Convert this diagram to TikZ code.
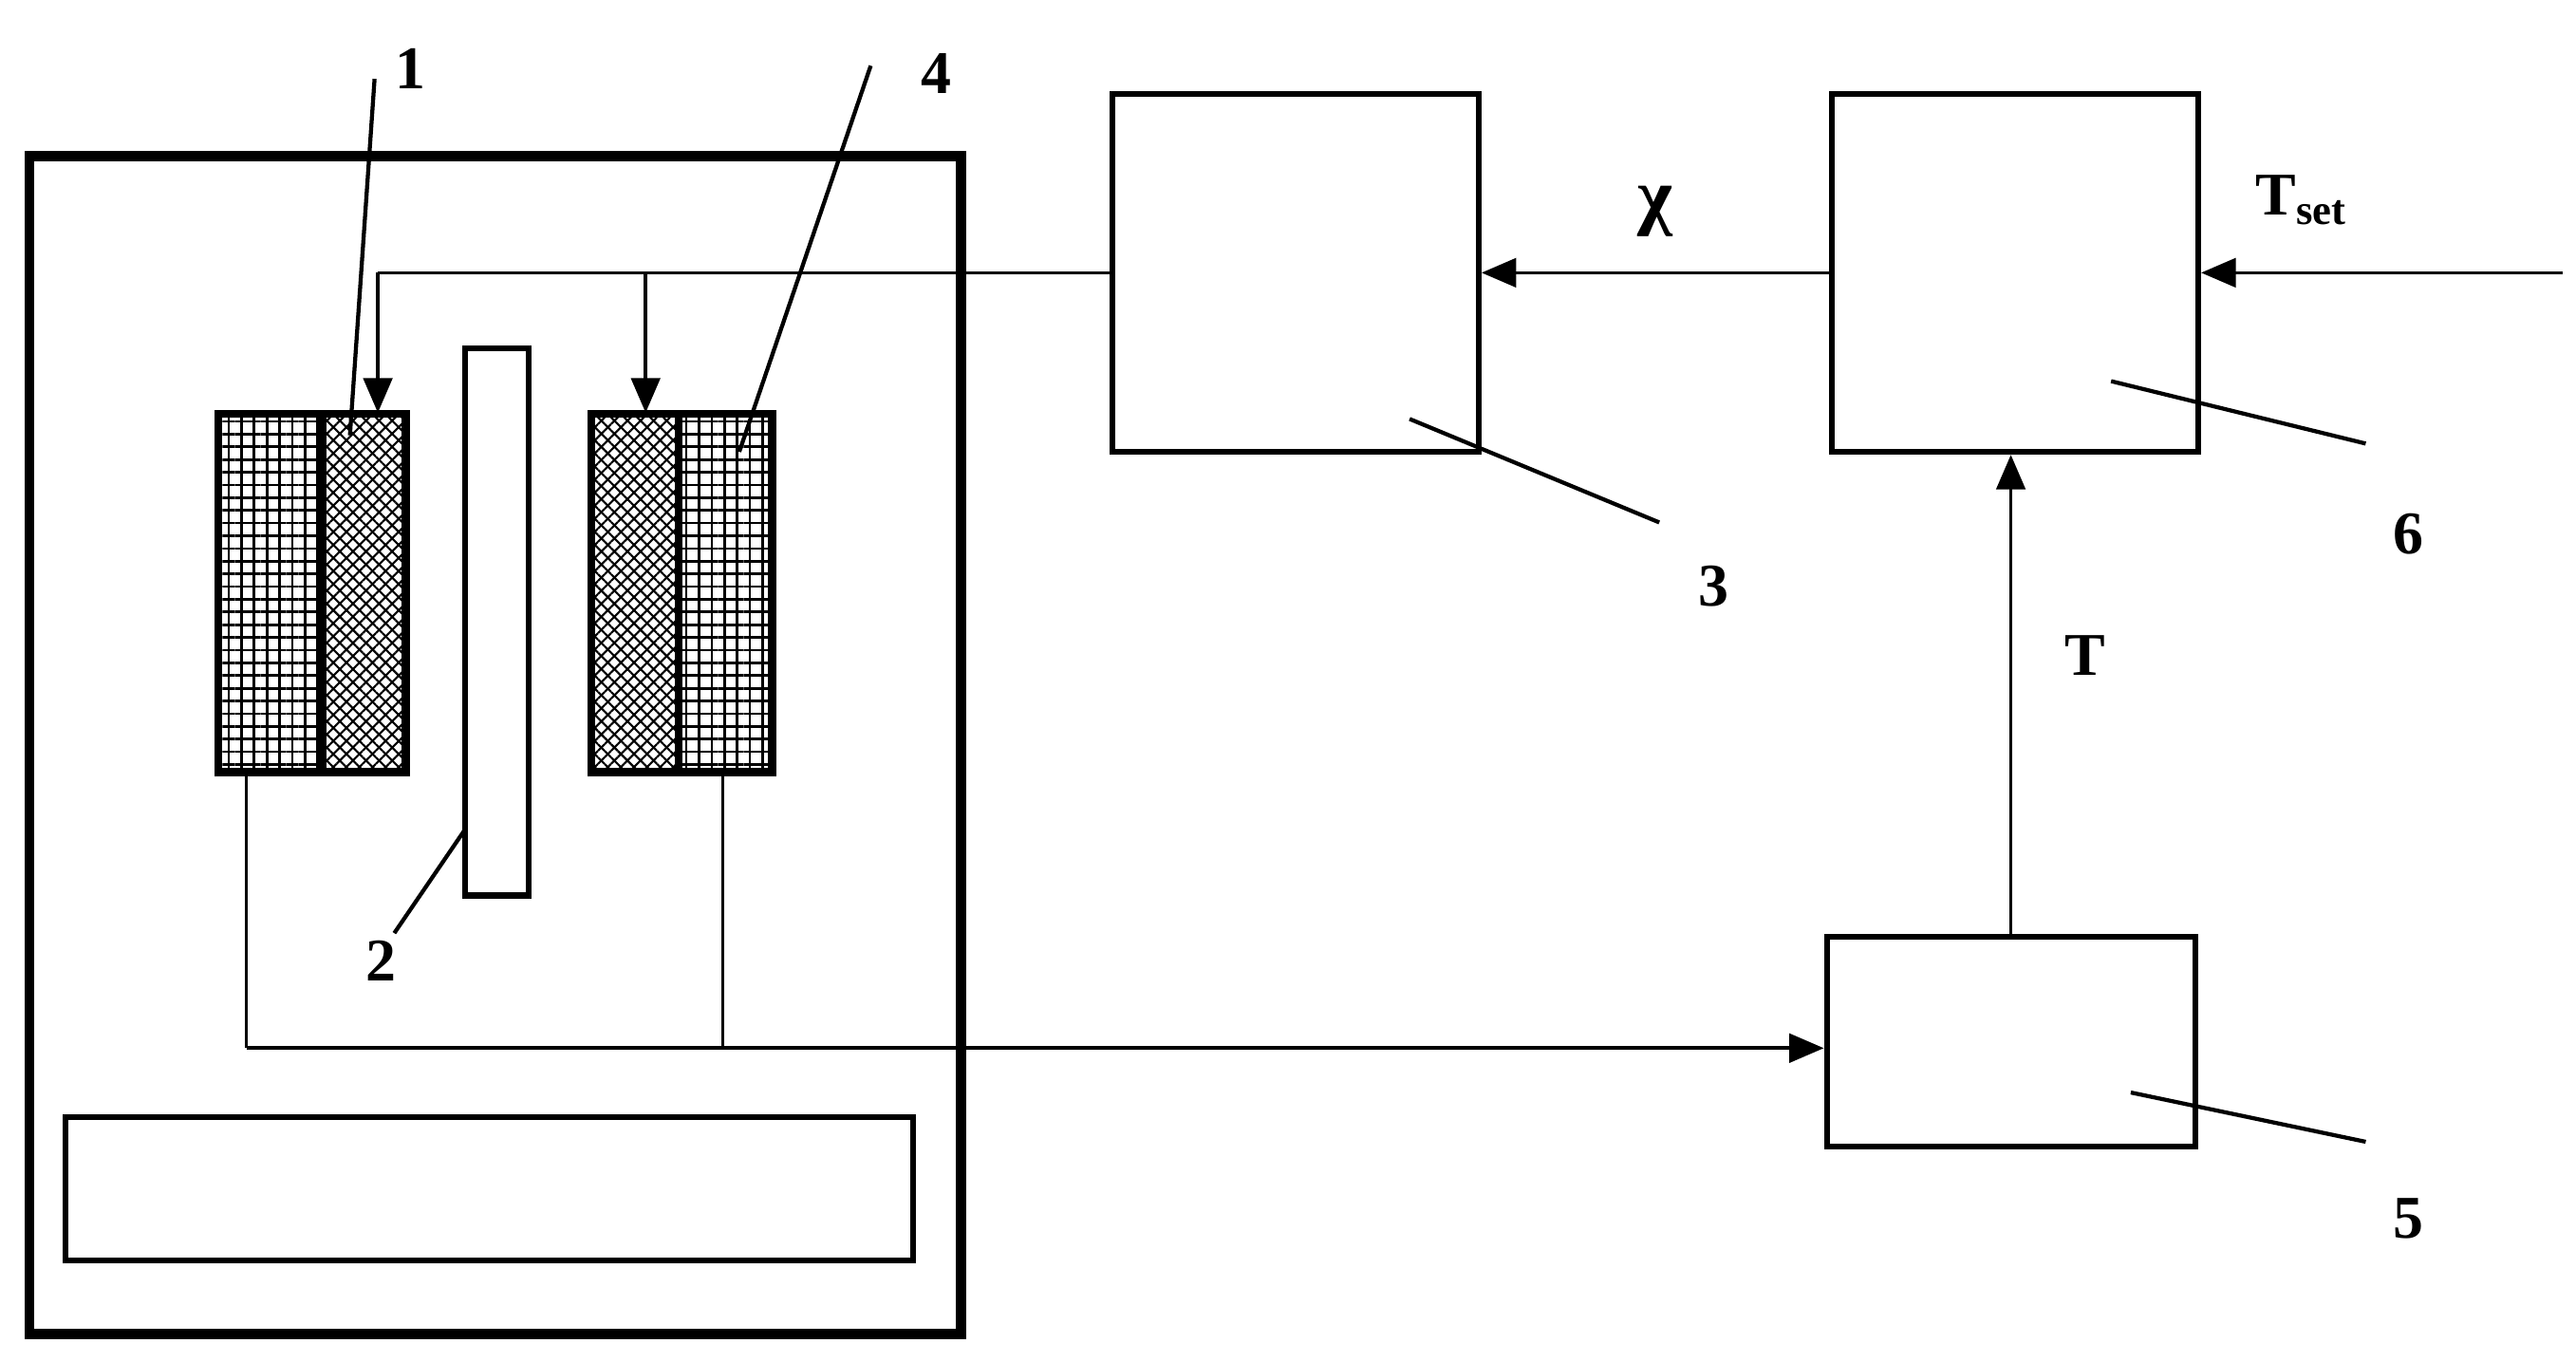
\documentclass[tikz,border=0pt]{standalone}
\usepackage{fontspec}
\setmainfont{Liberation Serif}
\usetikzlibrary{patterns.meta,arrows.meta}
\begin{document}
\begin{tikzpicture}[x=0.01cm,y=-0.01cm,
  blk/.style={draw,line width=1pt,minimum width=2.23cm,inner sep=0},
  conn/.style={line width=0.6pt},
  arr/.style={conn,-{Triangle[length=6pt,width=5pt]}},
  lead/.style={line width=0.7pt},
  lab/.style={font=\fontsize{10.5}{12}\selectfont\bfseries,inner sep=1pt},
  grd/.style={pattern={Lines[angle=0,distance=2.2pt,line width=0.45pt]}},
  grd2/.style={pattern={Lines[angle=90,distance=2.2pt,line width=0.45pt]}},
  chk/.style={pattern={Lines[angle=45,distance=1.6pt,line width=0.35pt]}},
  chk2/.style={pattern={Lines[angle=-45,distance=1.6pt,line width=0.35pt]}}]
\useasboundingbox (0,0) rectangle (1568,829);
% outer housing
\draw[line width=1.7pt] (18,95) rectangle (585,812);
\draw[line width=1pt] (40,680) rectangle (556,767);
% coils
\fill[grd] (133,252) rectangle (196,470); \fill[grd2] (133,252) rectangle (196,470);
\fill[chk] (196,252) rectangle (247,470); \fill[chk2] (196,252) rectangle (247,470);
\fill[chk] (360,252) rectangle (413,470); \fill[chk2] (360,252) rectangle (413,470);
\fill[grd] (413,252) rectangle (470,470); \fill[grd2] (413,252) rectangle (470,470);
\draw[line width=1.4pt] (133,252) rectangle (247,470) (196,252) -- (196,470);
\draw[line width=1.4pt] (360,252) rectangle (470,470) (413,252) -- (413,470);
\node[inner sep=0,minimum width=1.14cm,minimum height=2.18cm] (c1) at (190,361) {};
\node[inner sep=0,minimum width=1.10cm,minimum height=2.18cm] (c4) at (415,361) {};
% rod
\node[draw,line width=1pt,minimum width=0.39cm,minimum height=3.33cm,inner sep=0] (rod) at (302.5,378.5) {};
% blocks
\node[blk,minimum height=2.18cm] (b3) at (788.5,166) {};
\node[blk,minimum height=2.18cm] (b6) at (1226.5,166) {};
\node[blk,minimum height=1.28cm,minimum width=2.24cm] (b5) at (1224,634) {};
\coordinate (in) at (1560,166);
\coordinate (j1) at (230,166);
\coordinate (j2) at (393,166);
\coordinate (d1) at (150,638);
\coordinate (d2) at (440,638);
% connectors
\draw[conn] (b3.west) -- (j1);
\draw[arr] (j1) -- (j1|-c1.north);
\draw[arr] (j2) -- (j2|-c4.north);
\draw[arr] (b6.west) -- (b3.east) node[lab,midway,above=5pt,font=\fontsize{13}{14}\selectfont\bfseries] {χ};
\draw[arr] (in) -- (b6.east) node[lab,pos=0.72,above=7pt] {T\textsubscript{set}};
\draw[arr] (b5.north) -- (b5.north|-b6.south) node[lab,pos=0.58,right=8pt] {T};
\draw[conn] (d1|-c1.south) -- (d1);
\draw[conn] (d2|-c4.south) -- (d2);
\draw[arr] (d1) -- (b5.west|-d1);
% labels
\node[lab] (l1) at (250,42) {1};
\node[lab] (l4) at (570,45) {4};
\node[lab] (l2) at (232,585) {2};
\node[lab] (l3) at (1043,357) {3};
\node[lab] (l6) at (1466,325) {6};
\node[lab] (l5) at (1466,742) {5};
\draw[lead] (228,48) -- (213,265);
\draw[lead] (530,40) -- (450,275);
\draw[lead] (240,568) -- (283,505);
\draw[lead] (1010,318) -- (858,255);
\draw[lead] (1440,270) -- (1285,232);
\draw[lead] (1440,695) -- (1297,665);
\end{tikzpicture}
\end{document}
